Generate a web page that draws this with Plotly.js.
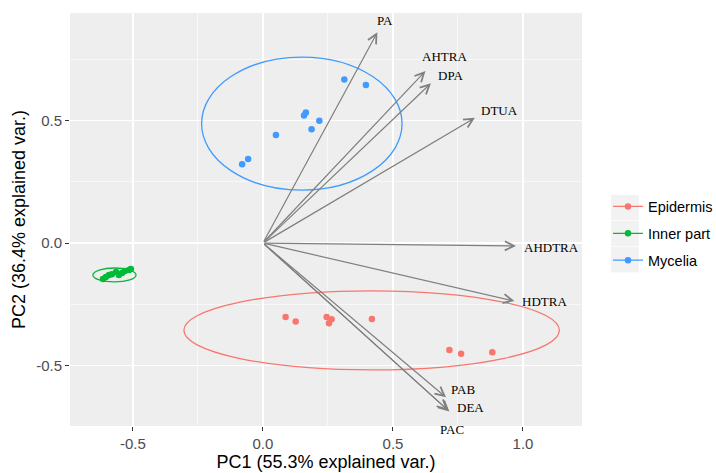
<!DOCTYPE html>
<html><head><meta charset="utf-8">
<script src="https://cdn.plot.ly/plotly-3.0.1.min.js"></script>
<style>html,body{margin:0;padding:0;background:#fff}#chart{width:716px;height:473px}</style>
</head><body><div id="chart"></div>
<script>
// ---- data ----
const groups = ['Epidermis', 'Inner part', 'Mycelia'];
const epidermisPC1 = [0.087, 0.126, 0.245, 0.264, 0.254, 0.419, 0.717, 0.762, 0.882];
const epidermisPC2 = [-0.302, -0.320, -0.302, -0.311, -0.328, -0.310, -0.437, -0.452, -0.446];
const innerPC1 = [-0.615, -0.604, -0.592, -0.581, -0.565, -0.554, -0.542, -0.531, -0.515, -0.508];
const innerPC2 = [-0.147, -0.139, -0.131, -0.127, -0.118, -0.131, -0.122, -0.114, -0.110, -0.106];
const myceliaPC1 = [0.313, 0.396, 0.165, 0.158, 0.217, 0.187, 0.050, -0.057, -0.080];
const myceliaPC2 = [0.668, 0.645, 0.533, 0.521, 0.499, 0.464, 0.441, 0.343, 0.322];

// ellipse bounding boxes (PC1 min, PC1 max, PC2 min, PC2 max) per group
const ellipsePC1Min = [-0.304, -0.654, -0.236];
const ellipsePC1Max = [1.140, -0.488, 0.535];
const ellipsePC2Min = [-0.518, -0.159, 0.216];
const ellipsePC2Max = [-0.195, -0.102, 0.759];

// variable loadings (arrow tips) and label anchors
const varNames = ['PA', 'AHTRA', 'DPA', 'DTUA', 'AHDTRA', 'HDTRA', 'PAB', 'DEA', 'PAC'];
const loadPC1 = [0.440, 0.625, 0.646, 0.815, 0.973, 0.967, 0.704, 0.717, 0.712];
const loadPC2 = [0.860, 0.702, 0.652, 0.511, -0.012, -0.237, -0.630, -0.688, -0.683];
const labelPC1 = [0.437, 0.612, 0.672, 0.838, 1.004, 0.997, 0.722, 0.745, 0.681];
const labelPC2 = [0.910, 0.760, 0.683, 0.543, -0.018, -0.240, -0.596, -0.671, -0.722];

const xTickVals = [-0.5, 0, 0.5, 1.0];
const xTickText = ['-0.5', '0.0', '0.5', '1.0'];
const yTickVals = [-0.5, 0, 0.5];
const yTickText = ['-0.5', '0.0', '0.5'];

// ---- styling ----
const colors = ['#F8766D', '#00BA38', '#3F9BFF'];
const pcX = [epidermisPC1, innerPC1, myceliaPC1];
const pcY = [epidermisPC2, innerPC2, myceliaPC2];

const traces = [];
groups.forEach((g, i) => {
  traces.push({
    type: 'scatter', mode: 'markers', x: pcX[i], y: pcY[i], name: g,
    showlegend: false, hoverinfo: 'skip',
    marker: {color: colors[i], size: 6.5}
  });
});
groups.forEach((g, i) => {
  traces.push({
    type: 'scatter', mode: 'lines+markers', x: [null], y: [null], name: g,
    legendgroup: g, showlegend: true,
    line: {color: colors[i], width: 1.3},
    marker: {color: colors[i], size: 6.5}
  });
});

const shapes = groups.map((g, i) => ({
  type: 'circle', xref: 'x', yref: 'y',
  x0: ellipsePC1Min[i], x1: ellipsePC1Max[i], y0: ellipsePC2Min[i], y1: ellipsePC2Max[i],
  line: {color: colors[i], width: 1.3}, fillcolor: 'rgba(0,0,0,0)'
}));
// legend key backgrounds (ggplot style)
[0, 1, 2].forEach(k => {
  shapes.push({
    type: 'rect', xref: 'paper', yref: 'paper', layer: 'below',
    x0: 1.057, x1: 1.111, y0: 0.498 - 0.063 * k, y1: 0.498 - 0.063 * k + 0.0615,
    line: {width: 0}, fillcolor: '#F2F2F2'
  });
});

const annotations = [];
varNames.forEach((v, i) => {
  annotations.push({
    xref: 'x', yref: 'y', axref: 'x', ayref: 'y',
    x: loadPC1[i], y: loadPC2[i], ax: 0, ay: 0,
    text: '', showarrow: true, arrowhead: 5, arrowsize: 1.5, arrowwidth: 1.2,
    arrowcolor: '#7F7F7F', standoff: 0, startstandoff: 0
  });
});
varNames.forEach((v, i) => {
  annotations.push({
    xref: 'x', yref: 'y', x: labelPC1[i], y: labelPC2[i],
    text: v, showarrow: false, xanchor: 'left', yanchor: v === 'PAC' ? 'top' : 'middle',
    xshift: -2,
    font: {family: 'Liberation Serif, Times New Roman, serif', size: 13, color: '#000'}
  });
});

const axisCommon = {
  showgrid: true, gridcolor: '#FFFFFF', gridwidth: 1.3, zeroline: false, showline: false,
  ticks: 'outside', ticklen: 4, tickwidth: 1, tickcolor: '#333333',
  tickfont: {family: 'Liberation Sans, Arial, sans-serif', size: 15, color: '#4D4D4D'},
  minor: {dtick: 0.25, showgrid: true, gridcolor: '#FFFFFF', gridwidth: 0.6, ticks: ''}
};

const layout = {
  width: 716, height: 473,
  margin: {l: 70, r: 134, t: 13, b: 47, autoexpand: false},
  paper_bgcolor: '#FFFFFF', plot_bgcolor: '#EEEEEE',
  showlegend: true,
  xaxis: Object.assign({}, axisCommon, {
    range: [-0.742, 1.227], tickmode: 'array', tickvals: xTickVals, ticktext: xTickText,
    title: {text: 'PC1 (55.3% explained var.)', standoff: 3,
            font: {family: 'Liberation Sans, Arial, sans-serif', size: 18, color: '#000'}}
  }),
  yaxis: Object.assign({}, axisCommon, {
    range: [-0.747, 0.939], tickmode: 'array', tickvals: yTickVals, ticktext: yTickText,
    title: {text: 'PC2 (36.4% explained var.)', standoff: 5,
            font: {family: 'Liberation Sans, Arial, sans-serif', size: 18, color: '#000'}}
  }),
  legend: {
    x: 1.0508, xanchor: 'left', y: 0.466, yanchor: 'middle',
    bgcolor: 'rgba(0,0,0,0)', tracegroupgap: 5, traceorder: 'grouped',
    font: {family: 'Liberation Sans, Arial, sans-serif', size: 14.5, color: '#000'}
  },
  shapes: shapes,
  annotations: annotations
};

Plotly.newPlot('chart', traces, layout, {displayModeBar: false, staticPlot: true});
</script>
</body></html>
